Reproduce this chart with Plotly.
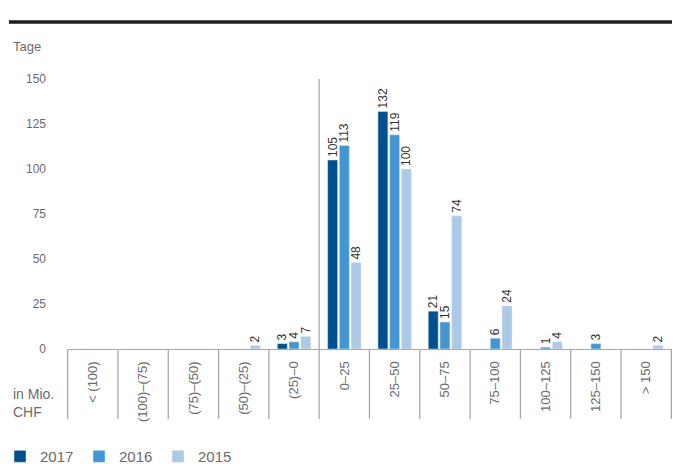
import plotly.graph_objects as go

categories = ["< (100)", "(100)–(75)", "(75)–(50)", "(50)–(25)", "(25)–0",
              "0–25", "25–50", "50–75", "75–100", "100–125", "125–150", "> 150"]
v2017 = [0, 0, 0, 0, 3, 105, 132, 21, 0, 0, 0, 0]
v2016 = [0, 0, 0, 0, 4, 113, 119, 15, 6, 1, 3, 0]
v2015 = [0, 0, 0, 2, 7, 48, 100, 74, 24, 4, 0, 2]
series = [("2017", v2017, "#00508F"), ("2016", v2016, "#4496D2"), ("2015", v2015, "#ADC9E8")]
y_ticks = [0, 25, 50, 75, 100, 125, 150]

FONT = "Liberation Sans"
GREY = "#6b6b6b"

fig = go.Figure()
for name, vals, col in series:
    fig.add_trace(go.Bar(
        x=categories, y=vals, name=name, marker_color=col,
        text=[str(v) if v else "" for v in vals],
        textposition="outside", textangle=-90, constraintext="none",
        cliponaxis=False,
        textfont=dict(family=FONT, size=12, color="#333333"),
    ))

shapes = []
n = len(categories)
for i in range(n + 1):
    top = 1 if i == 5 else 0
    shapes.append(dict(type="line", xref="x", yref="paper",
                       x0=i - 0.5, x1=i - 0.5, y0=-0.259, y1=top,
                       line=dict(color="#a8a8a8", width=1.3)))
# thick top rule
shapes.append(dict(type="line", xref="paper", yref="paper",
                   x0=-0.096, x1=1.0, y0=1.211, y1=1.211,
                   line=dict(color="#1e1e1e", width=3.5)))

fig.update_layout(
    width=680, height=464,
    margin=dict(l=67, r=8, t=79, b=115, autoexpand=False),
    plot_bgcolor="white", paper_bgcolor="white",
    barmode="group", bargap=0.3, bargroupgap=0.15,
    font=dict(family=FONT, color=GREY),
    shapes=shapes,
    showlegend=True,
    legend=dict(orientation="h", xref="container", yref="container",
                x=0.0, xanchor="left", y=0.016, yanchor="middle",
                font=dict(size=15, color=GREY), itemwidth=30,
                entrywidth=34, entrywidthmode="pixels",
                bgcolor="rgba(0,0,0,0)"),
    annotations=[
        dict(text="Tage", xref="paper", yref="paper", x=-0.092, y=1.122,
             xanchor="left", yanchor="middle", showarrow=False,
             font=dict(size=13, color=GREY)),
        dict(text="in Mio.<br>CHF", xref="paper", yref="paper", x=-0.092, y=-0.20,
             xanchor="left", yanchor="middle", showarrow=False, align="left",
             font=dict(size=14, color=GREY)),
    ],
)
fig.update_xaxes(type="category", showline=True, linecolor="#a8a8a8", linewidth=1.3,
                 tickangle=-90, ticks="", ticklabelstandoff=6,
                 tickfont=dict(size=13, color=GREY), showgrid=False, zeroline=False)
fig.update_yaxes(range=[0, 150], tickvals=y_ticks, showgrid=False, zeroline=False,
                 showline=False, ticks="",
                 ticklabelstandoff=20, tickfont=dict(size=12, color=GREY))

fig.write_html("out.html", config={"displayModeBar": False},
               post_script="document.body.style.margin='0';document.body.style.overflow='hidden';")
